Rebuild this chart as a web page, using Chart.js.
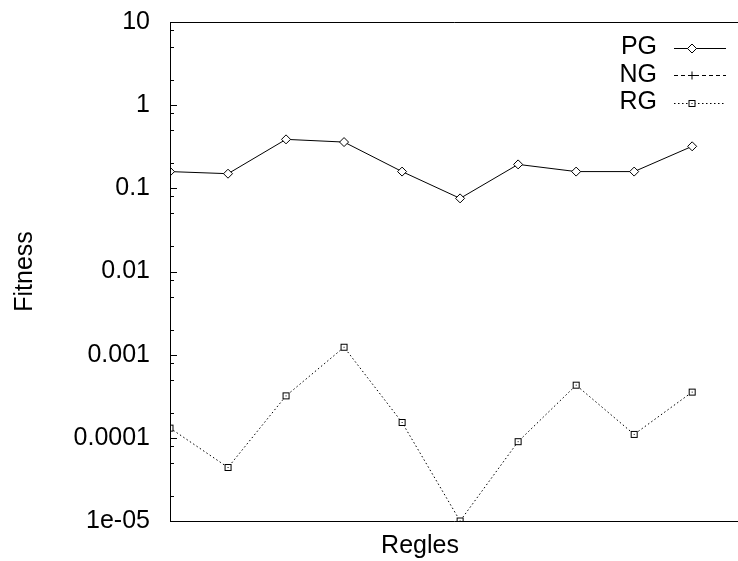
<!DOCTYPE html>
<html>
<head>
<meta charset="utf-8">
<script src="https://cdn.jsdelivr.net/npm/chart.js@4/dist/chart.umd.min.js"></script>
<style>
  html, body { margin: 0; padding: 0; background: #fff; overflow: hidden; }
  #wrap { width: 738px; height: 561px; position: relative; }
</style>
</head>
<body>
<div id="wrap"><canvas id="c" width="738" height="561"></canvas></div>
<script>
// ---- data ----
const rules = [1, 2, 3, 4, 5, 6, 7, 8, 9, 10];
const seriesNames = ['PG', 'NG', 'RG'];
const pgValues = [0.159, 0.150, 0.388, 0.360, 0.159, 0.0757, 0.194, 0.159, 0.159, 0.320];
const ngValues = [null, null, null, null, null, null, null, null, null, null]; // nothing visible on the log axis
const rgValues = [1.31e-4, 4.4e-5, 3.2e-4, 1.23e-3, 1.53e-4, 1.0e-5, 9.0e-5, 4.3e-4, 1.10e-4, 3.55e-4];
const majorTicks = [1e-5, 1e-4, 1e-3, 1e-2, 1e-1, 1, 10];
const tickLabels = ['1e-05', '0.0001', '0.001', '0.01', '0.1', '1', '10'];
const minorMultipliers = [2, 5, 8];
const xTitle = 'Regles';
const yTitle = 'Fitness';

const FONT = 'Liberation Sans, Arial, Helvetica, sans-serif';
const FS = 25;

function toPoints(vals) { return rules.map((r, i) => ({ x: r, y: vals[i] })); }

// square-with-dot marker for RG
const sq = document.createElement('canvas');
sq.width = 11; sq.height = 11;
(function () {
  const g = sq.getContext('2d');
  g.fillStyle = '#fff'; g.fillRect(2, 2, 7, 7);
  g.strokeStyle = '#000'; g.lineWidth = 1;
  g.strokeRect(2.5, 2.5, 6, 6);
  g.fillStyle = '#000'; g.fillRect(5, 5, 1, 1);
})();

const frame = {
  id: 'frame',
  afterDraw(chart) {
    const { ctx, chartArea: a } = chart;
    const y = chart.scales.y;
    ctx.save();
    ctx.strokeStyle = '#000';
    ctx.lineWidth = 1;
    ctx.beginPath();
    ctx.moveTo(chart.width, Math.round(a.top) + 0.5);
    ctx.lineTo(Math.round(a.left) + 0.5, Math.round(a.top) + 0.5);
    ctx.lineTo(Math.round(a.left) + 0.5, Math.round(a.bottom) + 0.5);
    ctx.lineTo(chart.width, Math.round(a.bottom) + 0.5);
    ctx.stroke();
    // inward ticks
    ctx.beginPath();
    majorTicks.forEach(v => {
      const py = Math.round(y.getPixelForValue(v)) + 0.5;
      ctx.moveTo(a.left, py); ctx.lineTo(a.left + 7, py);
    });
    majorTicks.slice(0, -1).forEach(v => {
      minorMultipliers.forEach(m => {
        const py = Math.round(y.getPixelForValue(v * m)) + 0.5;
        ctx.moveTo(a.left, py); ctx.lineTo(a.left + 4, py);
      });
    });
    ctx.stroke();

    ctx.font = FS + 'px ' + FONT;
    ctx.fillStyle = '#000';
    // x axis title
    ctx.textAlign = 'center';
    ctx.textBaseline = 'middle';
    ctx.fillText(xTitle, 420, 546);

    // legend (text left, sample right)
    const rowY = [47.5, 75, 102.5];
    ctx.textAlign = 'right';
    chart.data.datasets.forEach((ds, i) => {
      const yy = rowY[i];
      ctx.fillText(ds.label, 657, yy);
      ctx.save();
      ctx.strokeStyle = '#000';
      ctx.lineWidth = 1;
      ctx.setLineDash(ds.borderDash || []);
      ctx.beginPath();
      ctx.moveTo(674, Math.round(yy) + 0.5); ctx.lineTo(726, Math.round(yy) + 0.5);
      ctx.stroke();
      ctx.restore();
      ctx.save();
      ctx.fillStyle = ds.pointBackgroundColor || '#fff';
      ctx.strokeStyle = '#000';
      ctx.lineWidth = 1;
      Chart.helpers.drawPoint(ctx, { pointStyle: ds.pointStyle, radius: ds.pointRadius, rotation: 0, borderWidth: 1 }, 692, Math.round(yy) + 0.5);
      ctx.restore();
    });
    ctx.restore();
  }
};

new Chart(document.getElementById('c'), {
  type: 'line',
  data: {
    datasets: [
      { label: seriesNames[0], data: toPoints(pgValues), borderColor: '#000', borderWidth: 1,
        pointStyle: 'rectRot', pointRadius: 4.5, pointBackgroundColor: '#fff', pointBorderColor: '#000', pointBorderWidth: 1 },
      { label: seriesNames[1], data: toPoints(ngValues), borderColor: '#000', borderWidth: 1, borderDash: [4, 3],
        pointStyle: 'cross', pointRadius: 4, pointBackgroundColor: '#000', pointBorderColor: '#000', pointBorderWidth: 1 },
      { label: seriesNames[2], data: toPoints(rgValues), borderColor: '#000', borderWidth: 1, borderDash: [1.5, 2.5],
        pointStyle: sq, pointRadius: 5, pointBackgroundColor: '#fff', pointBorderColor: '#000', pointBorderWidth: 1 }
    ]
  },
  options: {
    responsive: false,
    animation: false,
    layout: { autoPadding: false, padding: { top: 22, right: 0, bottom: 0, left: 0 } },
    plugins: { legend: { display: false }, tooltip: { enabled: false } },
    elements: { line: { tension: 0 } },
    scales: {
      x: {
        type: 'linear', min: 1, max: 10.79,
        grid: { display: false, drawTicks: false },
        border: { display: false },
        ticks: { display: false },
        title: { display: false, text: xTitle },
        afterFit(s) { s.height = 40; s.paddingLeft = 0; s.paddingRight = 0; }
      },
      y: {
        type: 'logarithmic', min: 1e-5, max: 10,
        grid: { display: false, drawTicks: false },
        border: { display: false },
        afterBuildTicks(s) { s.ticks = majorTicks.map(v => ({ value: v })); },
        ticks: {
          color: '#000', padding: 20, font: { family: FONT, size: FS },
          callback: (v, i) => tickLabels[i]
        },
        title: { display: true, text: yTitle, color: '#000', font: { family: FONT, size: FS }, padding: { top: 10, bottom: 0 } },
        afterFit(s) { s.width = 170; s.paddingTop = 0; s.paddingBottom = 0; }
      }
    }
  },
  plugins: [frame]
});
</script>
</body>
</html>
